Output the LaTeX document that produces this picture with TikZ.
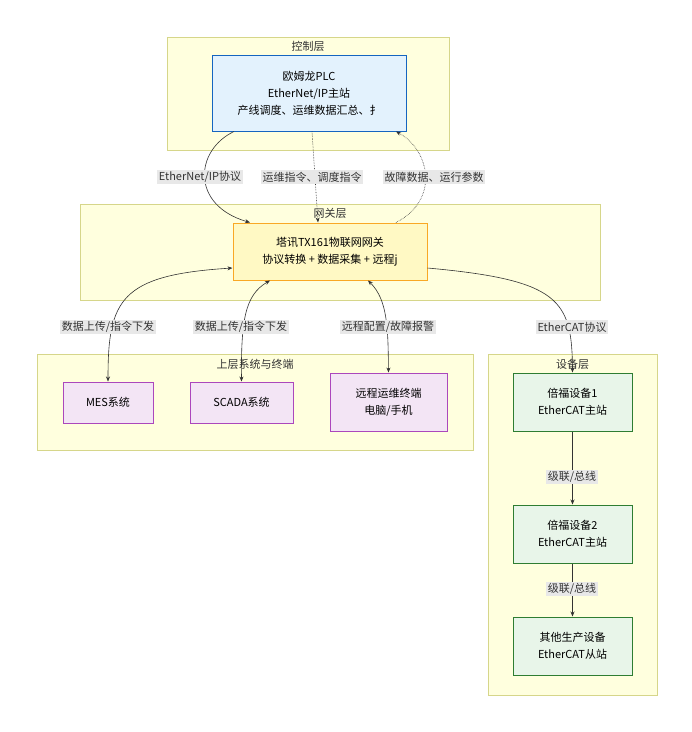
\documentclass[tikz,border=0pt]{standalone}
\usepackage{fontspec}
\setmainfont{Noto Sans CJK SC}
\usetikzlibrary{arrows.meta}
\definecolor{layerfill}{HTML}{FFFFDE}
\definecolor{layerdraw}{HTML}{D6D68A}
\definecolor{plcfill}{HTML}{E3F2FD}
\definecolor{plcdraw}{HTML}{1565C0}
\definecolor{gwfill}{HTML}{FFF9C4}
\definecolor{gwdraw}{HTML}{F9A825}
\definecolor{sysfill}{HTML}{F3E5F5}
\definecolor{sysdraw}{HTML}{AB47BC}
\definecolor{devfill}{HTML}{E8F5E9}
\definecolor{devdraw}{HTML}{2E7D32}
\definecolor{lblfill}{HTML}{E8E8E8}
\definecolor{linec}{HTML}{333333}

\begin{document}
\begin{tikzpicture}[x=1pt,y=-1pt,font=\fontsize{11}{13}\selectfont,>={Stealth[length=5pt,width=4pt]}]
  \tikzstyle{layer}=[draw=layerdraw, fill=layerfill, line width=0.8pt]
  \tikzstyle{box}=[rectangle, align=center, inner sep=0pt, line width=1pt]
  \tikzstyle{title}=[text=black!80]
  \tikzstyle{lbl}=[fill=lblfill, inner sep=1.5pt, text=black!80]
  \tikzstyle{link}=[draw=linec, line width=0.6pt]
  \useasboundingbox (0,0) rectangle (692,732);
  \fill[white] (0,0) rectangle (692,732);

  % layers
  \draw[layer] (167,37) rectangle (449,150);
  \node[title] (t_ctl) at (308,46) {控制层};
  \draw[layer] (80,204) rectangle (600,300);
  \node[title] (t_gw) at (330,213) {网关层};
  \draw[layer] (37,354) rectangle (473,450);
  \node[title] (t_sys) at (255,364) {上层系统与终端};
  \draw[layer] (488,354) rectangle (657,695);
  \node[title] (t_dev) at (572.5,364) {设备层};

  % nodes
  \node[box, draw=plcdraw, fill=plcfill, minimum width=194pt, minimum height=76pt] (plc) at (309,93)
    {欧姆龙PLC\\[4pt]EtherNet/IP主站\\[4pt]产线调度、运维数据汇总、扌};
  \node[box, draw=gwdraw, fill=gwfill, minimum width=194pt, minimum height=57pt] (gw) at (330,251.5)
    {塔讯TX161物联网网关\\[4pt]协议转换 + 数据采集 + 远程j};
  \node[box, draw=sysdraw, fill=sysfill, minimum width=90pt, minimum height=41pt] (mes) at (108,402.5) {MES系统};
  \node[box, draw=sysdraw, fill=sysfill, minimum width=103pt, minimum height=41pt] (scada) at (241.5,402.5) {SCADA系统};
  \node[box, draw=sysdraw, fill=sysfill, minimum width=117pt, minimum height=58pt] (term) at (388.5,402) {远程运维终端\\[4pt]电脑/手机};
  \node[box, draw=devdraw, fill=devfill, minimum width=119pt, minimum height=58pt] (dev1) at (572.5,402) {倍福设备1\\[4pt]EtherCAT主站};
  \node[box, draw=devdraw, fill=devfill, minimum width=119pt, minimum height=58pt] (dev2) at (572.5,534) {倍福设备2\\[4pt]EtherCAT主站};
  \node[box, draw=devdraw, fill=devfill, minimum width=119pt, minimum height=58pt] (dev3) at (572.5,646) {其他生产设备\\[4pt]EtherCAT从站};

  % connectors
  \draw[link,->] ([xshift=-75pt]plc.south) .. controls (195,150) and (190,205) .. ([xshift=-80pt]gw.north);
  \draw[link,->,densely dotted] ([xshift=3pt]plc.south) -- ([xshift=-12pt]gw.north);
  \draw[link,->,densely dotted] ([xshift=66pt]gw.north) .. controls (440,200) and (430,150) .. ([xshift=87pt]plc.south);
  \draw[link,<->] (gw.west |- 0,268) .. controls (120,275) and (108,300) .. (mes.north);
  \draw[link,<->] ([xshift=-60pt]gw.south) .. controls (245,295) and (241,320) .. (scada.north);
  \draw[link,<->] ([xshift=38pt]gw.south) .. controls (388,300) and (388,330) .. (term.north);
  \draw[link,->] (gw.east |- 0,268) .. controls (560,280) and (572,300) .. (dev1.north);
  \draw[link,->] (dev1) -- (dev2);
  \draw[link,->] (dev2) -- (dev3);

  % labels
  \node[lbl] (l_eip) at (200,177) {EtherNet/IP协议};
  \node[lbl] (l_cmd) at (312,177) {运维指令、调度指令};
  \node[lbl] (l_fault) at (434,177) {故障数据、运行参数};
  \node[lbl] (l_mes) at (108,327) {数据上传/指令下发};
  \node[lbl] (l_scada) at (241,327) {数据上传/指令下发};
  \node[lbl] (l_term) at (388,327) {远程配置/故障报警};
  \node[lbl] (l_ecat) at (572,327) {EtherCAT协议};
  \node[lbl] (l_bus1) at (572,477) {级联/总线};
  \node[lbl] (l_bus2) at (572,589) {级联/总线};
\end{tikzpicture}
\end{document}
